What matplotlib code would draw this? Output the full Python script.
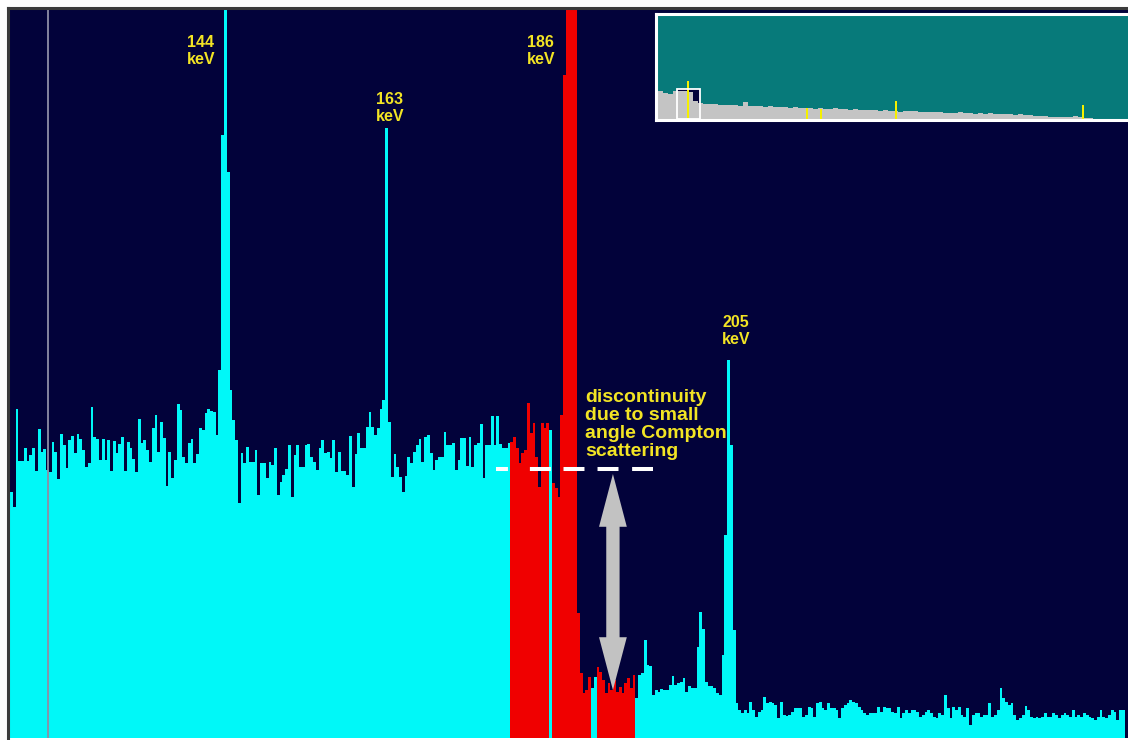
import numpy as np
import matplotlib
matplotlib.use("Agg")
import matplotlib.pyplot as plt
from matplotlib.patches import Rectangle, FancyArrowPatch

# Spectrum counts, one value per channel, split by region
counts_low = [246, 231, 329, 277, 277, 290, 277, 283, 290, 267,
              309, 286, 289, 268, 266, 296, 286, 259, 304, 293,
              270, 298, 302, 285, 304, 299, 288, 271, 275, 331,
              301, 299, 278, 299, 278, 298, 267, 297, 285, 294,
              301, 267, 296, 290, 279, 266, 319, 295, 298, 288,
              276, 310, 323, 286, 316, 300, 252, 286, 260, 278,
              334, 328, 281, 275, 295, 299, 275, 284, 310, 308,
              325, 329, 327, 326, 303]
counts_144 = [368, 603, 760, 566, 348, 318, 298, 235]
counts_mid = [285, 275, 291, 276, 276, 288, 243, 275, 275, 260,
              276, 273, 290, 243, 256, 263, 269, 293, 241, 283,
              293, 271, 271, 293, 294, 281, 276, 268, 290, 298,
              285, 286, 280, 298,
              266, 286, 267, 267, 263, 302, 251, 284, 305, 290,
              290, 311, 326, 311, 303, 310, 329, 338, 610, 316,
              261, 284, 271, 261, 246, 262, 281, 275, 286, 293,
              299, 276, 301, 303, 285, 268, 278, 281, 281, 306,
              293, 293, 295, 268, 278, 300, 300, 272, 301, 271,
              293, 295, 314, 260, 293, 293, 322, 293, 322, 294,
              290, 290]
counts_roi = [295, 296, 301, 290, 275, 285, 288, 335, 305, 315,
              281, 251, 315, 310, 315, 308, 255, 250, 241, 323,
              663, 760, 760, 760, 760, 125, 65, 45, 48, 61,
              50, 61, 71, 66, 58, 45, 55, 48, 58, 46,
              51, 45, 55, 60, 50]
counts_205 = [63, 40, 63, 65, 98, 73, 72, 43, 48,
              46, 49, 48, 48, 53, 62, 53, 55, 56, 60,
              46, 52, 50, 50, 91, 126, 109, 56, 52, 52,
              50, 45, 43, 83, 203, 378, 293, 108, 35]
counts_tail = [28, 25, 28, 25, 36, 28, 21, 26, 28, 41,
               35, 36, 35, 33, 20, 36, 23, 22, 23,
               26, 30, 30, 30, 21, 23, 31, 30, 21,
               35, 36, 30, 28, 35, 30, 30, 28, 20, 30,
               33, 35, 38, 36, 35, 31, 28, 25, 23, 25,
               25, 25, 31, 26, 31, 30, 30, 26, 25,
               31, 20, 25, 28, 25, 28, 28, 26, 21, 23,
               26, 28, 25, 21, 20, 25, 23, 43, 30, 20,
               31, 28, 31, 23, 21, 30, 13, 23, 25,
               25, 21, 23, 23, 35, 21, 23, 28, 50, 40,
               36, 33, 35, 23, 18, 20, 23, 32, 28, 21,
               20, 21, 20, 21, 25, 21, 21, 25, 23,
               20, 23, 25, 23, 21, 28, 21, 23, 21, 25,
               23, 21, 20, 18, 21, 28, 21, 20, 23, 28,
               26, 18, 28, 28]

# region of interest (red), with the channels left out of it
roi_first, roi_last = 180, 224
roi_outside = [194, 209, 210]

peak_labels = ["144\nkeV", "163\nkeV", "186\nkeV", "205\nkeV"]
label_channels = [68.7, 136.7, 191.0, 261.2]
label_counts = [687, 630, 687, 407]

note_text = "discontinuity\ndue to small\nangle Compton\nscattering"
note_channel, note_count = 206.8, 349

step_level = 269
step_channels = (174.8, 231.3)
arrow_channel = 216.9
arrow_counts = (264, 48)
cursor_channel = 13.56

# overview of the whole spectrum, 5 channels of the strip per value
overview_counts = [28, 26, 25, 28, 28, 28, 27, 18, 16, 15,
                   15, 15, 14, 14, 14, 14, 13, 17, 13, 13,
                   13, 12, 13, 12, 12, 12, 11, 12, 11, 11,
                   11, 10, 11, 10, 10, 11, 10, 10, 9, 10,
                   9, 9, 9, 9, 8, 9, 8, 8, 7, 8,
                   8, 8, 7, 7, 7, 7, 7, 6, 6, 6,
                   7, 6, 6, 5, 6, 5, 6, 5, 5, 5,
                   5, 4, 5, 4, 4, 3, 3, 3, 2, 2,
                   2, 2, 2, 3, 2, 1, 1]
marker_channels = [6.0, 29.8, 32.6, 47.6, 85.0]
marker_heights = [38, 11, 10, 18, 14]
view_window = (3.8, 8.4)
view_height = 30

NAVY = "#02023a"
CYAN = "#00f8f8"
RED = "#f00000"
YELLOW = "#f2e424"
TEAL = "#077a7a"
GREY = "#c4c4c4"

plt.rcParams["font.family"] = ["Liberation Sans", "DejaVu Sans"]
plt.rcParams["lines.scale_dashes"] = False

counts = np.array(counts_low + counts_144 + counts_mid + counts_roi
                  + counts_205 + counts_tail, dtype=float)
n = len(counts)
edges = np.arange(n + 1)
chan = np.arange(n)
in_roi = (chan >= roi_first) & (chan <= roi_last) & ~np.isin(chan, roi_outside)

fig = plt.figure(figsize=(11.28, 7.40), dpi=100, facecolor="white")
W, H = 1128.0, 740.0
ax = fig.add_axes([8 / W, 2 / H, 1120 / W, 730 / H])
ax.set_facecolor(NAVY)

ax.stairs(np.where(in_roi, 0, counts), edges, fill=True, color=CYAN, lw=0)
ax.stairs(np.where(in_roi, counts, 0), edges, fill=True, color=RED, lw=0)
ax.axvline(cursor_channel, color="#8e8ea6", lw=1.3)

ax.set_xlim(-0.72, 402.2)
ax.set_ylim(0, 730)
ax.set_xticks([])
ax.set_yticks([])
for side in ["bottom", "right"]:
    ax.spines[side].set_visible(False)
for side in ["top", "left"]:
    ax.spines[side].set_color("#3c3c3c")
    ax.spines[side].set_linewidth(2.2)

for text, c, y in zip(peak_labels, label_channels, label_counts):
    ax.text(c, y, text, color=YELLOW, fontsize=11.5, fontweight="bold",
            ha="center", va="center", multialignment="center",
            linespacing=1.1)

ax.text(note_channel, note_count, note_text, color=YELLOW, fontsize=14,
        fontweight="bold", ha="left", va="top", linespacing=1.08)

# dashes (points): short first dash, then regular 21px / 12px rhythm
ax.plot(step_channels, [step_level, step_level], color="white", lw=2.9,
        linestyle=(0, (8.6, 15.8, 15.1, 9.1, 15.1, 9.4, 15.1, 9.8, 15.1, 30)),
        solid_capstyle="butt", dash_capstyle="butt")

# double-headed arrow from two simple arrows leaving the middle
mid = (arrow_counts[0] + arrow_counts[1]) / 2
for end in arrow_counts:
    ax.add_patch(FancyArrowPatch(
        (arrow_channel, mid), (arrow_channel, end),
        arrowstyle="simple,head_length=0.95,head_width=0.5,tail_width=0.24",
        mutation_scale=40, shrinkA=0, shrinkB=0,
        facecolor="#c2c2c2", edgecolor="none", lw=0, zorder=5))

# overview strip in the upper right corner
ins = fig.add_axes([656 / W, (H - 119.5) / H, 494 / W, 106 / H])
ins.set_facecolor(TEAL)
ins.add_patch(Rectangle((view_window[0], 0), view_window[1] - view_window[0],
                        view_height, facecolor=NAVY, lw=0, zorder=1))
ov_edges = np.arange(len(overview_counts) + 1)
ins.stairs(overview_counts, ov_edges, fill=True, color=GREY, lw=0, zorder=2)
ins.bar(marker_channels, marker_heights, width=0.55, color="#f5f000",
        lw=0, zorder=3)
ins.add_patch(Rectangle((view_window[0], 0), view_window[1] - view_window[0],
                        view_height, facecolor="none", edgecolor="white",
                        lw=1.3, zorder=4))
ins.set_xlim(-0.4, 98.4)
ins.set_ylim(-0.3, 105.7)
ins.set_xticks([])
ins.set_yticks([])
for side in ins.spines.values():
    side.set_color("white")
    side.set_linewidth(2.2)

fig.savefig("out.png", dpi=100, facecolor=fig.get_facecolor())
